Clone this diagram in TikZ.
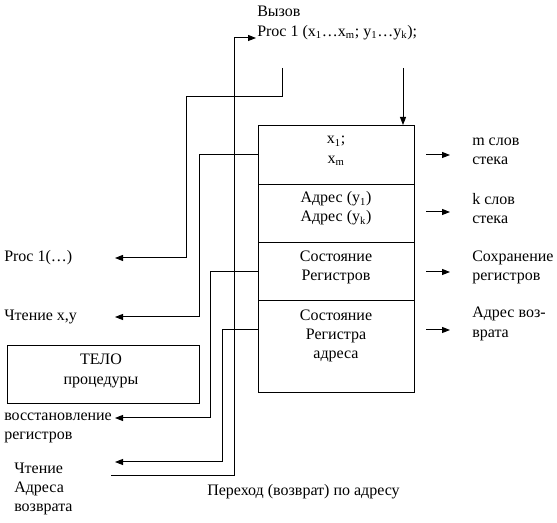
\documentclass[tikz,border=0pt]{standalone}
\usepackage{fontspec}
\setmainfont{Liberation Serif}
\usetikzlibrary{arrows.meta}
\begin{document}
\begin{tikzpicture}[x=0.75pt,y=-0.75pt,
  txt/.style={font=\fontsize{12}{14.5}\selectfont, inner sep=0pt},
  lbl/.style={txt, align=left, anchor=west},
  ctr/.style={txt, align=center},
  cell/.style={draw, line width=0.75pt, minimum width=117pt, inner sep=0pt, anchor=north west},
  wire/.style={line width=0.75pt},
  arr/.style={wire, -{Triangle[length=6pt,width=4.5pt]}}]
\useasboundingbox[fill=white] (0,0) rectangle (557,523);

% stack box
\node[cell, minimum height=44.25pt] (c1) at (258,125) {};
\node[cell, minimum height=43.5pt] (c2) at (258,184) {};
\node[cell, minimum height=43.5pt] (c3) at (258,242) {};
\node[cell, minimum height=69pt] (c4) at (258,300) {};
\node[ctr] (t1) at (336,151) {x\textsubscript{1};\\x\textsubscript{m}};
\node[ctr] (t2) at (336,208.5) {Адрес (y\textsubscript{1})\\Адрес (y\textsubscript{k})};
\node[ctr] (t3) at (336,267.5) {Состояние\\Регистров};
\node[ctr] (t4) at (336,336) {Состояние\\Регистра\\адреса};

% call text
\node[lbl] (call) at (257,23) {Вызов\\Proc 1 (x\textsubscript{1}\ldots x\textsubscript{m}; y\textsubscript{1}\ldots y\textsubscript{k});};

% right labels
\node[lbl] (r1) at (472,151) {m слов\\стека};
\node[lbl] (r2) at (472,208.5) {k слов\\стека};
\node[lbl] (r3) at (472,267.5) {Сохранение\\регистров};
\node[lbl] (r4) at (472,324) {Адрес воз-\\врата};

% left labels
\node[lbl] (l1) at (4,258) {Proc 1(\ldots)};
\node[lbl] (l2) at (4,317) {Чтение x,y};
\node[lbl] (l3) at (4,428) {восстановление\\регистров};
\node[lbl] (l4) at (14,489) {Чтение\\Адреса\\возврата};
\node[lbl] (bot) at (207,492) {Переход (возврат) по адресу};

% body box
\node[draw, line width=0.75pt, minimum width=144pt, minimum height=43.5pt, inner sep=0pt, anchor=north west] (body) at (7,345) {};
\node[ctr] (bodyt) at (101,371) {ТЕЛО\\процедуры};

% coordinates
\coordinate (a0) at (282,68);
\coordinate (a1) at (115,258);
\coordinate (b0) at (111,476);
\coordinate (b1) at (256,38);
\coordinate (ct) at (403,68);
\coordinate (e1) at (115,317);
\coordinate (e2) at (115,418);
\coordinate (e3) at (115,462);

% connectors
\draw[arr] (a0) -- (282,97) -- (186,97) |- (a1);
\draw[arr] (b0) -- (234,476) |- (b1);
\draw[arr] (ct) -- (ct |- c1.north);
\draw[arr] (c1.west |- 0,155) -- (199,155) |- (e1);
\draw[arr] (c3.west |- 0,272) -- (210,272) |- (e2);
\draw[arr] (c4.west |- 0,330) -- (222,330) |- (e3);

\foreach \y/\n in {155/1,212/2,272/3,330/4}
  \draw[arr] (426,\y) -- (450,\y);
\end{tikzpicture}
\end{document}
